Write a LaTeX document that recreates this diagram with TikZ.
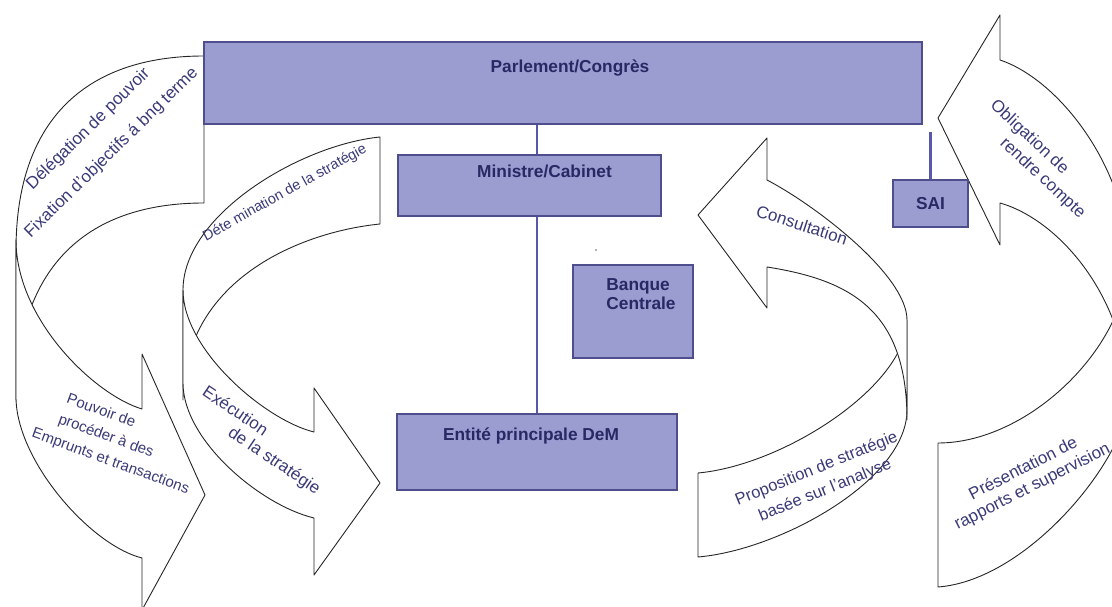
\documentclass[tikz,border=0pt]{standalone}
\usepackage{fontspec}
\setmainfont{Liberation Sans}
\definecolor{boxfill}{RGB}{155,156,208}
\definecolor{boxline}{RGB}{78,78,140}
\definecolor{boxtext}{RGB}{40,40,100}
\definecolor{linkblue}{RGB}{88,88,170}
\definecolor{lbltext}{RGB}{58,58,120}
\begin{document}
\begin{tikzpicture}[x=1pt, y=-1pt,
	band/.style={fill=white, draw=black!85, line width=0.9pt, line join=round},
	box/.style={shape=rectangle, draw=boxline, line width=1.5pt, fill=boxfill, inner sep=0pt, font=\bfseries\fontsize{17.3}{18.5}\selectfont, text=boxtext},
	boxtxt/.style={inner sep=0pt, align=left, font=\bfseries\fontsize{17.3}{18.5}\selectfont, text=boxtext},
	lbl/.style={inner sep=0pt, align=center, font=\fontsize{17}{20}\selectfont, text=lbltext},
	link/.style={draw=linkblue, line width=2.5pt}]
	\useasboundingbox [fill=white] (0,0) rectangle (1112,607);
	\draw [band] (204,56) .. controls (82,56) and (16,124) .. (16,250) -- (16,400) .. controls (16,272) and (82,203) .. (204,203) -- cycle;
	\draw [band] (16,240) -- (16,397) .. controls (16,460) and (90,545) .. (142,558) -- (142,610) -- (205,495) -- (142,354) -- (142,409) .. controls (95,395) and (16,320) .. (16,240) -- cycle;
	\draw [band] (380,137) .. controls (300,145) and (183,215) .. (183,290) -- (183,400) .. controls (183,280) and (300,232) .. (380,224) -- cycle;
	\draw [band] (183,290) -- (183,383) .. controls (183,440) and (260,505) .. (314,518) -- (314,575) -- (380,483) -- (314,388) -- (314,432) .. controls (265,420) and (183,350) .. (183,290) -- cycle;
	\draw [band] (698,557) .. controls (780,550) and (907,480) .. (907,410) -- (907,320) .. controls (907,385) and (785,465) .. (698,473) -- cycle;
	\draw [band] (767,180) .. controls (815,205) and (907,275) .. (907,320) -- (907,420) .. controls (907,310) and (850,280) .. (767,267) -- (767,308) -- (698,215) -- (767,138) -- cycle;
	\draw [band] (938,587) .. controls (1030,580) and (1128,455) .. (1128,400) -- (1128,260) .. controls (1128,345) and (1030,443) .. (938,443) -- cycle;
	\draw [band] (1000,60) .. controls (1060,80) and (1128,170) .. (1128,260) -- (1128,400) .. controls (1128,300) and (1060,220) .. (1000,203) -- (1000,245) -- (938,118) -- (1000,15) -- cycle;
	\node (tDel) at (100,141) [lbl, rotate=44.5, font=\fontsize{17}{33}\selectfont] {Délégation de pouvoir\\Fixation d’objectifs á bng terme};
	\node (tPouv) at (118,441) [lbl, rotate=-20, align=left, font=\fontsize{15}{22}\selectfont] {\hspace*{21pt}Pouvoir de\\\hspace*{20pt}procéder à des\\Emprunts et transactions};
	\node (tDet) at (285,193) [lbl, rotate=29, font=\fontsize{14.5}{17}\selectfont] {Déte mination de la stratégie};
	\node (tExe) at (261,441) [lbl, rotate=-34, align=left, font=\fontsize{17}{19}\selectfont] {Exécution\\\hspace*{44pt}de la stratégie};
	\node (tCons) at (802,225) [lbl, rotate=-18] {Consultation};
	\node (tProp) at (821,480) [lbl, rotate=22, font=\fontsize{16.5}{23}\selectfont] {Proposition de stratégie\\basée sur l’analyse};
	\node (tObl) at (1037.5,159.5) [lbl, rotate=-43, align=left, font=\fontsize{17}{21}\selectfont] {Obligation de\\\hspace*{33pt}rendre compte};
	\node (tPres) at (1028,478) [lbl, rotate=27] {Présentation de\\rapports et supervision};
	\node (parl) at (563,83) [box, minimum width=718pt, minimum height=82pt, text height=31pt, text depth=51pt] {\hspace*{14pt}Parlement/Congrès};
	\node (mini) at (529.5,185.5) [box, minimum width=263pt, minimum height=61pt, text height=23pt, text depth=38pt] {\hspace*{30pt}Ministre/Cabinet};
	\node (sai) at (930.5,203.5) [box, minimum width=75pt, minimum height=47pt] {SAI};
	\node (bank) at (633,311.5) [box, minimum width=120pt, minimum height=93pt] {};
	\node (bankTxt) at (641,294) [boxtxt] {Banque\\Centrale};
	\node (ent) at (537,452) [box, minimum width=280pt, minimum height=76pt, text height=26pt, text depth=50pt] {Entité principale DeM\hspace*{12pt}};
	\coordinate (saiTop) at (930.5,132);
	\draw [link] (parl.south -| ent.north) -- (mini.north -| ent.north);
	\draw [link] (mini.south -| ent.north) -- (ent.north);
	\draw [link] (sai.north) -- (saiTop);
	\fill [black!60] (596,250) circle (0.8pt);
\end{tikzpicture}
\end{document}
